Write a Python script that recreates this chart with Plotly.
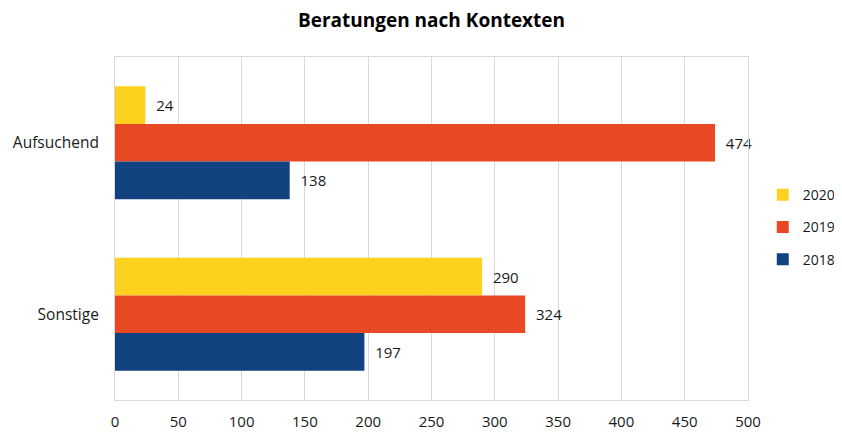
import plotly.graph_objects as go

categories = ["Aufsuchend", "Sonstige"]
years = ["2020", "2019", "2018"]
values_2020 = [24, 290]
values_2019 = [474, 324]
values_2018 = [138, 197]
colors = ["#FDD11E", "#E84924", "#12427F"]
tick_vals = list(range(0, 501, 50))

series = [values_2020, values_2019, values_2018]
font_family = "Open Sans, Liberation Sans, sans-serif"

# the page body adds an 8px offset; size the figure so it fits the 842x432 window
fig = go.Figure()
for name, vals, col in zip(years, series, colors):
    fig.add_trace(go.Bar(
        y=categories, x=vals, name=name, orientation="h",
        marker=dict(color=col, line=dict(width=0)),
        text=["\u00a0\u00a0" + str(v) for v in vals], textposition="outside",
        textfont=dict(size=15, color="#1a1a1a", family=font_family),
        cliponaxis=False, legendgroup=name,
    ))

fig.update_layout(
    width=834, height=424,
    margin=dict(l=107, r=94, t=49, b=32, autoexpand=False),
    paper_bgcolor="white", plot_bgcolor="white",
    barmode="group", bargap=0.34, bargroupgap=0,
    title=dict(text="<b>Beratungen nach Kontexten</b>", x=0.5, xanchor="center",
               xref="paper", y=0.972, yanchor="middle", yref="container",
               font=dict(size=19, color="#000000", family=font_family)),
    font=dict(family=font_family, size=15, color="#1a1a1a"),
    legend=dict(x=0.905, y=0.483, xanchor="left", yanchor="middle",
                xref="container", yref="container",
                font=dict(size=14, color="#1a1a1a"),
                tracegroupgap=11, itemwidth=30),
    showlegend=True,
    xaxis=dict(range=[0, 500], tickvals=tick_vals, showgrid=True,
               gridcolor="#D9D9D9", gridwidth=1, zeroline=False,
               showline=True, linecolor="#D9D9D9", mirror=True,
               ticks="", ticklabelstandoff=8, automargin=False,
               tickfont=dict(size=15, color="#1a1a1a")),
    yaxis=dict(autorange="reversed", showgrid=False, zeroline=False,
               showline=True, linecolor="#D9D9D9", mirror=True,
               ticks="", ticklabelstandoff=12, automargin=False,
               tickfont=dict(size=15.5, color="#1a1a1a")),
)

fig.write_html("out.html")
